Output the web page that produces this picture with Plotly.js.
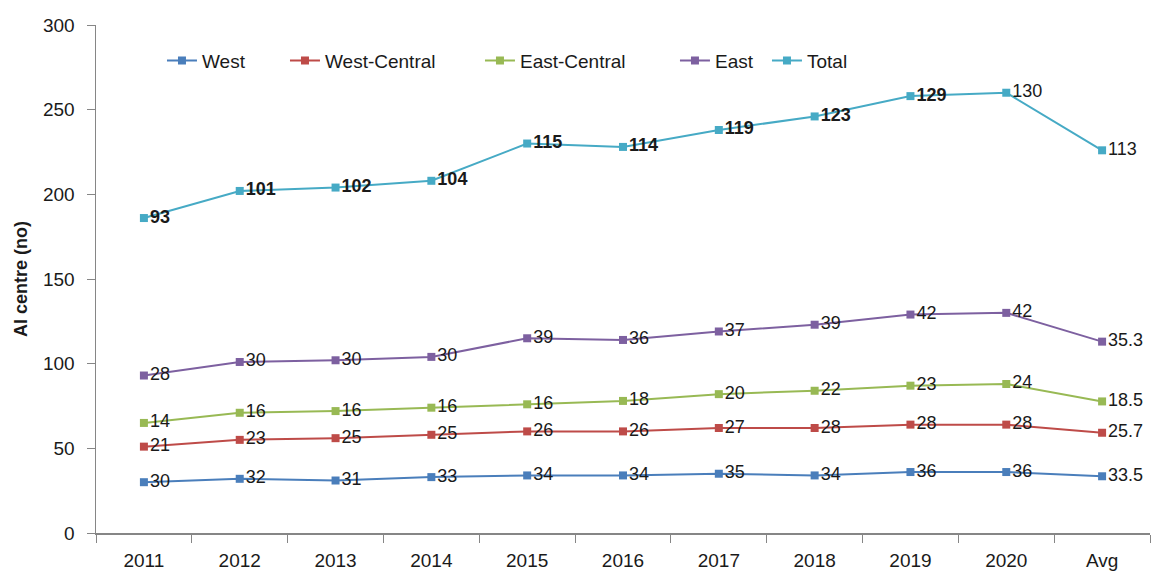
<!DOCTYPE html>
<html>
<head>
<meta charset="utf-8">
<script src="https://cdn.plot.ly/plotly-3.0.1.min.js"></script>
<style>html,body{margin:0;padding:0;background:#fff;}#chart{width:1156px;height:576px;}</style>
</head>
<body>
<div id="chart"></div>
<script>
const categories = ["2011","2012","2013","2014","2015","2016","2017","2018","2019","2020","Avg"];
const west = [30,32,31,33,34,34,35,34,36,36,33.5];
const westCentral = [21,23,25,25,26,26,27,28,28,28,25.7];
const eastCentral = [14,16,16,16,16,18,20,22,23,24,18.5];
const east = [28,30,30,30,39,36,37,39,42,42,35.3];
const total = [93,101,102,104,115,114,119,123,129,130,113];

const seriesNames = ["West","West-Central","East-Central","East","Total"];
const seriesData = [west, westCentral, eastCentral, east, total];
const colors = ["#4a7ebb","#be4b48","#98b954","#7d60a0","#46aac5"];
const FONT = "'Liberation Sans', Arial, sans-serif";
// Total labels: bold except the last two
const totalBold = [true,true,true,true,true,true,true,true,true,false,false];
const legendIds = ["legend","legend2","legend3","legend4","legend5"];
const legendX = [0.0626, 0.1793, 0.3643, 0.5493, 0.6366];

const traces = seriesData.map((vals, i) => ({
  type: "scatter",
  x: categories,
  y: vals,
  name: seriesNames[i],
  legend: legendIds[i],
  stackgroup: "one",
  fill: "none",
  mode: "lines+markers+text",
  line: {color: colors[i], width: 2},
  marker: {color: colors[i], symbol: "square", size: 8},
  text: vals.map((v, k) => (i === 4 && totalBold[k]) ? "<b>" + v + "</b>" : String(v)),
  textposition: "middle right",
  textfont: {family: FONT, size: 18, color: "#1a1a1a"},
  cliponaxis: false,
  hoverinfo: "x+text+name"
}));

const layout = {
  width: 1156, height: 576,
  margin: {l: 96, r: 6, t: 25, b: 43},
  paper_bgcolor: "#fff", plot_bgcolor: "#fff",
  font: {family: FONT, size: 19, color: "#1a1a1a"},
  showlegend: true,
  xaxis: {
    type: "category",
    showline: true, linecolor: "#868686", linewidth: 1.5,
    ticks: "outside", tickson: "boundaries", ticklen: 8, tickcolor: "#868686",
    showgrid: false, zeroline: false,
    tickfont: {family: FONT, size: 19, color: "#1a1a1a"},
    ticklabelstandoff: 10,
    range: [-0.5, 10.5]
  },
  yaxis: {
    range: [0, 300], dtick: 50,
    showline: true, linecolor: "#868686", linewidth: 1.5,
    ticks: "outside", ticklen: 8, tickcolor: "#868686",
    showgrid: false, zeroline: false,
    tickfont: {family: FONT, size: 19, color: "#1a1a1a"},
    ticklabelstandoff: 8,
    title: {text: "<b>AI centre (no)</b>", font: {family: FONT, size: 18, color: "#1a1a1a"}, standoff: 10}
  }
};
legendIds.forEach((id, i) => {
  layout[id] = {orientation: "h", x: legendX[i], y: 0.93, xanchor: "left", yanchor: "middle",
    font: {family: FONT, size: 19, color: "#1a1a1a"}, bgcolor: "rgba(0,0,0,0)", itemwidth: 30};
});

Plotly.newPlot("chart", traces, layout, {displayModeBar: false, staticPlot: true});
</script>
</body>
</html>
